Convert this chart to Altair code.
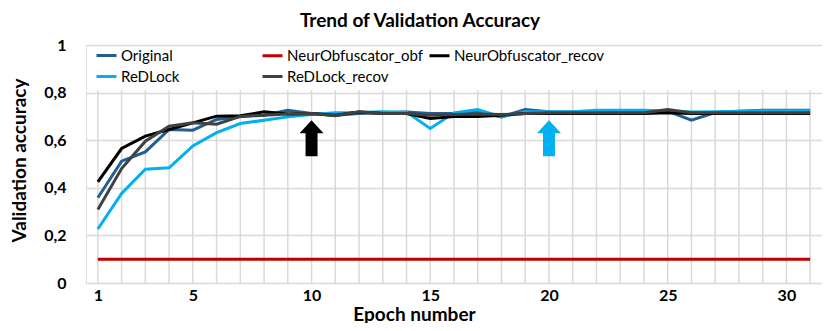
import altair as alt
import pandas as pd

FONT = "Lato"

epochs = list(range(1, 32))

original = [0.358, 0.512, 0.551, 0.645, 0.642, 0.687, 0.700, 0.705, 0.726, 0.712,
            0.705, 0.712, 0.715, 0.718, 0.712, 0.712, 0.718, 0.698, 0.729, 0.720,
            0.718, 0.722, 0.722, 0.722, 0.722, 0.684, 0.716, 0.722, 0.726, 0.726, 0.726]
neur_obf = [0.1, 0.1, 0.1, 0.1, 0.1, 0.1, 0.1, 0.1, 0.1, 0.1,
            0.1, 0.1, 0.1, 0.1, 0.1, 0.1, 0.1, 0.1, 0.1, 0.1,
            0.1, 0.1, 0.1, 0.1, 0.1, 0.1, 0.1, 0.1, 0.1, 0.1, 0.1]
neur_recov = [0.425, 0.565, 0.617, 0.645, 0.673, 0.701, 0.703, 0.719, 0.710, 0.712,
              0.705, 0.718, 0.712, 0.712, 0.691, 0.700, 0.700, 0.705, 0.712, 0.712,
              0.712, 0.712, 0.712, 0.712, 0.715, 0.712, 0.712, 0.712, 0.712, 0.712, 0.712]
redlock = [0.227, 0.376, 0.478, 0.484, 0.576, 0.632, 0.670, 0.684, 0.698, 0.708,
           0.715, 0.716, 0.720, 0.718, 0.649, 0.715, 0.729, 0.698, 0.720, 0.720,
           0.720, 0.726, 0.726, 0.726, 0.722, 0.718, 0.720, 0.722, 0.724, 0.724, 0.724]
redlock_recov = [0.309, 0.481, 0.596, 0.659, 0.673, 0.667, 0.700, 0.705, 0.710, 0.712,
                 0.703, 0.720, 0.712, 0.712, 0.705, 0.708, 0.710, 0.708, 0.712, 0.715,
                 0.715, 0.715, 0.715, 0.715, 0.729, 0.715, 0.715, 0.715, 0.715, 0.715, 0.715]

# legend column 1 series and the remaining series (two legends side by side)
names_a = ["Original", "ReDLock"]
colors_a = ["#225E8F", "#00B0F0"]
values_a = [original, redlock]
names_b = ["NeurObfuscator_obf", "NeurObfuscator_recov", "ReDLock_recov"]
colors_b = ["#C00000", "#000000", "#404040"]
values_b = [neur_obf, neur_recov, redlock_recov]

x_ticks = [1, 5, 10, 15, 20, 25, 30]
y_ticks = [0, 0.2, 0.4, 0.6, 0.8, 1]

arrow_epochs = [10, 20]
arrow_values = [0.608, 0.608]
arrow_colors = ["#000000", "#00B0F0"]


def long_df(names, values):
    rows = []
    for name, vals in zip(names, values):
        for e, v in zip(epochs, vals):
            rows.append({"epoch": e, "value": v, "series": name})
    return pd.DataFrame(rows)


df_a = long_df(names_a, values_a)
df_b = long_df(names_b, values_b)

grid_df = pd.DataFrame({"epoch": epochs, "value": [0] * len(epochs), "value_top": [0.81] * len(epochs)})
arrow_df = pd.DataFrame({"epoch": arrow_epochs, "value": arrow_values, "color": arrow_colors})

X = alt.X("epoch:Q",
          scale=alt.Scale(domain=[0.5, 31.5], nice=False, zero=False),
          axis=alt.Axis(values=x_ticks, grid=False, ticks=False, domain=False,
                        labelFont=FONT, labelFontSize=16, labelFontWeight="bold",
                        labelColor="#000000", labelPadding=4,
                        title="Epoch number", titleFont=FONT, titleFontSize=19,
                        titleFontWeight="bold", titleColor="#000000",
                        titleX=328, titleY=31, titleBaseline="middle", titleAlign="center"))
Y = alt.Y("value:Q",
          scale=alt.Scale(domain=[0, 1], nice=False),
          axis=alt.Axis(values=y_ticks, grid=True, gridColor="#d9d9d9", gridWidth=1.5,
                        ticks=False, domain=False,
                        labelExpr="replace(format(datum.value, '.1~f'), '.', ',')",
                        labelFont=FONT, labelFontSize=16, labelFontWeight="bold",
                        labelColor="#000000", labelPadding=20,
                        title="Validation accuracy", titleFont=FONT, titleFontSize=19,
                        titleFontWeight="bold", titleColor="#000000",
                        titleX=-67, titleY=115, titleAngle=-90,
                        titleBaseline="middle", titleAlign="center"))


def make_legend(x, cols):
    return alt.Legend(title=None, orient="none", legendX=x, legendY=-1,
                      direction="horizontal", columns=cols,
                      symbolType="stroke", symbolStrokeWidth=3, symbolSize=400,
                      labelFont=FONT, labelFontSize=15, labelColor="#000000",
                      labelOffset=3, labelLimit=400,
                      columnPadding=0, rowPadding=1, padding=0)


grid = alt.Chart(grid_df).mark_rule(color="#d9d9d9", strokeWidth=1.5).encode(
    x=X, y=Y, y2="value_top:Q")

lines_a = alt.Chart(df_a).mark_line(strokeWidth=3).encode(
    x=X, y=Y,
    color=alt.Color("series:N",
                    scale=alt.Scale(domain=names_a, range=colors_a),
                    sort=names_a, legend=make_legend(9, 1)))

lines_b = alt.Chart(df_b).mark_line(strokeWidth=3).encode(
    x=X, y=Y,
    color=alt.Color("series:N",
                    scale=alt.Scale(domain=names_b, range=colors_b),
                    sort=names_b, legend=make_legend(175, 2)))

arrow_path = "M0,-1 L0.667,-0.28 L0.333,-0.28 L0.333,1 L-0.333,1 L-0.333,-0.28 L-0.667,-0.28 Z"
arrows = alt.Chart(arrow_df).mark_point(shape=arrow_path, size=1296, filled=True,
                                        opacity=1, strokeWidth=0).encode(
    x=X, y=Y, fill=alt.Fill("color:N", scale=None))

chart = alt.layer(grid, lines_a, lines_b, arrows).resolve_scale(
    color="independent"
).properties(
    width=736, height=238,
    title=alt.TitleParams("Trend of Validation Accuracy", font=FONT, fontSize=19,
                          fontWeight="bold", color="#000000", anchor="middle",
                          dx=-34, offset=6),
    autosize=alt.AutoSizeParams(type="none"),
    padding={"left": 78, "top": 37, "right": 0, "bottom": 40},
).configure_view(stroke="#404040", strokeWidth=2).configure(background="white")

chart.save("out.html", embed_options={"renderer": "svg", "actions": False})
